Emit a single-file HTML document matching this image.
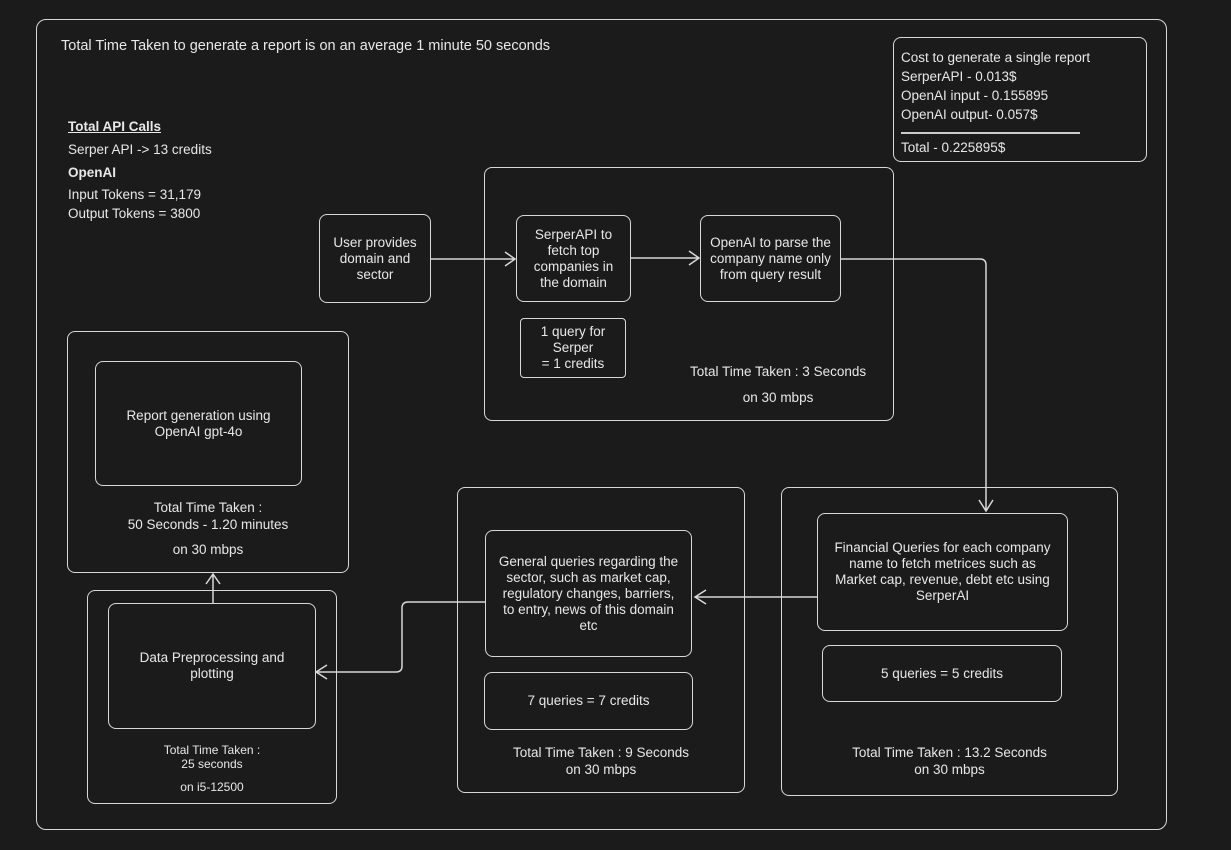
<!DOCTYPE html><html><head><style>
body{margin:0;width:1231px;height:850px;background:#1b1b1b;position:relative;overflow:hidden;font-family:"Liberation Sans",sans-serif;color:#e8e8e8;font-size:13.5px}
.b{position:absolute;border:1.6px solid #d8d8d8;border-radius:8px;box-sizing:border-box}
.t{position:absolute;text-align:center;line-height:16px}
.c{display:flex;align-items:center;justify-content:center;text-align:center;line-height:16px}
</style></head><body>
<div class="b" style="left:36px;top:19px;width:1131px;height:811px;border-radius:10px"></div>
<div class="t" style="left:61px;top:38px;text-align:left;font-size:14.5px">Total Time Taken to generate a report is on an average 1 minute 50 seconds</div>
<div class="b" style="left:893px;top:37px;width:254px;height:125px"></div>
<div class="t" style="left:901px;top:48px;text-align:left;line-height:19px">Cost to generate a single report<br>SerperAPI - 0.013$<br>OpenAI input - 0.155895<br>OpenAI output- 0.057$</div>
<div style="position:absolute;left:901px;top:132px;width:179px;height:1.5px;background:#ccc"></div>
<div class="t" style="left:901px;top:140px;text-align:left">Total - 0.225895$</div>
<div class="t" style="left:68px;top:115px;text-align:left;line-height:23px"><span style="font-weight:bold;text-decoration:underline">Total API Calls</span><br>Serper API -&gt; 13 credits<br><b>OpenAI</b></div>
<div class="t" style="left:68px;top:185px;text-align:left;line-height:19px">Input Tokens = 31,179<br>Output Tokens = 3800</div>

<div class="b c" style="left:319px;top:214px;width:112px;height:89px">User provides<br>domain and<br>sector</div>
<div class="b" style="left:484px;top:167px;width:410px;height:254px"></div>
<div class="b c" style="left:516px;top:215px;width:115px;height:87px">SerperAPI to<br>fetch top<br>companies in<br>the domain</div>
<div class="b c" style="left:700px;top:215px;width:141px;height:87px">OpenAI to parse the<br>company name only<br>from query result</div>
<div class="b c" style="left:520px;top:318px;width:106px;height:60px;border-radius:4px">1 query for<br>Serper<br>= 1 credits</div>
<div class="t" style="left:690px;top:359px;line-height:26px">Total Time Taken : 3 Seconds<br>on 30 mbps</div>

<div class="b" style="left:67px;top:331px;width:282px;height:242px"></div>
<div class="b c" style="left:95px;top:361px;width:207px;height:125px">Report generation using<br>OpenAI gpt-4o</div>
<div class="t" style="left:67px;top:499px;width:282px;line-height:17px">Total Time Taken :<br>50 Seconds - 1.20 minutes</div>
<div class="t" style="left:67px;top:542px;width:282px">on 30 mbps</div>

<div class="b" style="left:87px;top:590px;width:250px;height:214px"></div>
<div class="b c" style="left:108px;top:603px;width:208px;height:126px">Data Preprocessing and<br>plotting</div>
<div class="t" style="left:87px;top:743px;width:250px;font-size:12px;line-height:14px">Total Time Taken :<br>25 seconds</div>
<div class="t" style="left:87px;top:779px;width:250px;font-size:12px">on i5-12500</div>

<div class="b" style="left:457px;top:487px;width:288px;height:306px"></div>
<div class="b c" style="left:485px;top:530px;width:207px;height:127px">General queries regarding the<br>sector, such as market cap,<br>regulatory changes, barriers,<br>to entry, news of this domain<br>etc</div>
<div class="b c" style="left:484px;top:672px;width:209px;height:58px">7 queries = 7 credits</div>
<div class="t" style="left:457px;top:744px;width:288px;line-height:17px">Total Time Taken : 9 Seconds<br>on 30 mbps</div>

<div class="b" style="left:781px;top:487px;width:337px;height:309px"></div>
<div class="b c" style="left:817px;top:513px;width:251px;height:118px">Financial Queries for each company<br>name to fetch metrices such as<br>Market cap, revenue, debt etc using<br>SerperAI</div>
<div class="b c" style="left:822px;top:645px;width:240px;height:57px">5 queries = 5 credits</div>
<div class="t" style="left:781px;top:744px;width:337px;line-height:17px">Total Time Taken : 13.2 Seconds<br>on 30 mbps</div>

<svg width="1231" height="850" style="position:absolute;left:0;top:0" fill="none" stroke="#d8d8d8" stroke-width="1.5">
<path d="M431 259 L515 259 M505 252 L515 259 L505 266"/>
<path d="M631 258 L699 258 M689 251 L699 258 L689 265"/>
<path d="M841 259 L980 259 Q986 259 986 265 L986 511 M979 500 L986 511 L993 500"/>
<path d="M817 597 L695 597 M706 590 L695 597 L706 604"/>
<path d="M485 602 L408 602 Q402 602 402 608 L402 666 Q402 672 396 672 L316 672 M327 665 L316 672 L327 679"/>
<path d="M213 603 L213 574 M206 584 L213 574 L220 584"/>
</svg>
</body></html>
